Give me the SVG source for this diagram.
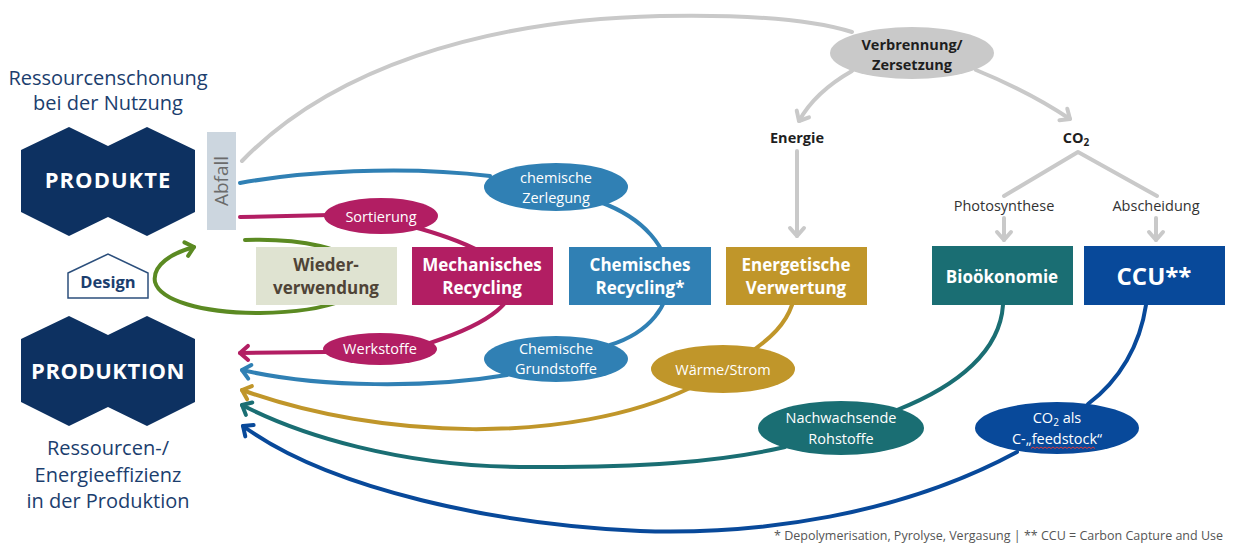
<svg xmlns="http://www.w3.org/2000/svg" width="1233" height="544" viewBox="0 0 1233 544">
<style>
text{font-family:"Open Sans","Noto Sans",sans-serif}
.ln{fill:none;stroke-width:4;stroke-linecap:round}
.gray{stroke:#c9c9c9}
.mag{stroke:#b21e63}
.blu{stroke:#3080b4}
.gld{stroke:#c0962a}
.tea{stroke:#1a6e73}
.dbl{stroke:#08499a}
.grn{stroke:#5b8a22}
.hex{fill:#0d3161}
.nav{fill:#1b3e6e}
.bx{font-weight:700;font-size:17px;fill:#fff;text-anchor:middle}
.el{font-size:14.5px;fill:#fff;text-anchor:middle}
.dk{font-weight:700;font-size:14.5px;fill:#1e1e1e;text-anchor:middle}
.lab{font-size:14.5px;fill:#333;text-anchor:middle}
</style>
<defs>
<marker id="aG" markerUnits="userSpaceOnUse" markerWidth="20" markerHeight="20" refX="0" refY="0" viewBox="-12 -10 16 20" orient="auto"><path d="M-8,-7 L0,0 L-8,7" fill="none" stroke="#c9c9c9" stroke-width="4" stroke-linecap="round" stroke-linejoin="round"/></marker>
<marker id="aM" markerUnits="userSpaceOnUse" markerWidth="20" markerHeight="20" refX="0" refY="0" viewBox="-12 -10 16 20" orient="auto"><path d="M-8,-7 L0,0 L-8,7" fill="none" stroke="#b21e63" stroke-width="4" stroke-linecap="round" stroke-linejoin="round"/></marker>
<marker id="aB" markerUnits="userSpaceOnUse" markerWidth="20" markerHeight="20" refX="0" refY="0" viewBox="-12 -10 16 20" orient="auto"><path d="M-8,-7 L0,0 L-8,7" fill="none" stroke="#3080b4" stroke-width="4" stroke-linecap="round" stroke-linejoin="round"/></marker>
<marker id="aY" markerUnits="userSpaceOnUse" markerWidth="20" markerHeight="20" refX="0" refY="0" viewBox="-12 -10 16 20" orient="auto"><path d="M-8,-7 L0,0 L-8,7" fill="none" stroke="#c0962a" stroke-width="4" stroke-linecap="round" stroke-linejoin="round"/></marker>
<marker id="aT" markerUnits="userSpaceOnUse" markerWidth="20" markerHeight="20" refX="0" refY="0" viewBox="-12 -10 16 20" orient="auto"><path d="M-8,-7 L0,0 L-8,7" fill="none" stroke="#1a6e73" stroke-width="4" stroke-linecap="round" stroke-linejoin="round"/></marker>
<marker id="aD" markerUnits="userSpaceOnUse" markerWidth="20" markerHeight="20" refX="0" refY="0" viewBox="-12 -10 16 20" orient="auto"><path d="M-8,-7 L0,0 L-8,7" fill="none" stroke="#08499a" stroke-width="4" stroke-linecap="round" stroke-linejoin="round"/></marker>
<marker id="aN" markerUnits="userSpaceOnUse" markerWidth="20" markerHeight="20" refX="0" refY="0" viewBox="-12 -10 16 20" orient="auto"><path d="M-8,-7 L0,0 L-8,7" fill="none" stroke="#5b8a22" stroke-width="4" stroke-linecap="round" stroke-linejoin="round"/></marker>
</defs>
<rect width="1233" height="544" fill="#fff"/>

<g id="connectors">
<path class="ln gray" d="M242,161 C330,70 480,20 660,16 C760,14 820,22 852,32"/>
<path class="ln gray" d="M852,71 Q815,92 799,121" marker-end="url(#aG)"/>
<path class="ln gray" d="M976,70 Q1030,92 1070,119" marker-end="url(#aG)"/>
<path class="ln gray" d="M797,151 L797,236" marker-end="url(#aG)"/>
<path class="ln gray" d="M1004,196 L1078,152 L1157,196" stroke-linejoin="round"/>
<path class="ln gray" d="M1004,218 L1004,240" marker-end="url(#aG)"/>
<path class="ln gray" d="M1156,218 L1156,240" marker-end="url(#aG)"/>

<path class="ln blu" d="M240,183 C300,172 400,165 490,176"/>
<path class="ln blu" d="M600,202 C690,235 690,320 610,345"/>
<path class="ln blu" d="M507,375 C430,388 320,388 242,370" marker-end="url(#aB)"/>

<path class="ln mag" d="M240,217 L330,215"/>
<path class="ln mag" d="M410,226 C520,255 560,300 430,343"/>
<path class="ln mag" d="M326,352 L240,353" marker-end="url(#aM)"/>

<path class="ln grn" d="M245,240 C300,238 350,248 365,270 C375,295 330,312 260,313 C200,313 160,300 155,282 C152,265 172,253 194,247" marker-end="url(#aN)"/>

<path class="ln gld" d="M792,305 C785,325 770,338 755,349"/>
<path class="ln gld" d="M690,388 C570,445 380,440 242,390" marker-end="url(#aY)"/>

<path class="ln tea" d="M1003,305 C1000,350 960,385 897,410"/>
<path class="ln tea" d="M785,447 C720,462 640,468 520,467 C400,466 300,435 242,405" marker-end="url(#aT)"/>

<path class="ln dbl" d="M1146,305 C1140,345 1120,380 1088,404"/>
<path class="ln dbl" d="M1017,452 C900,515 760,535 640,531 C500,525 330,490 243,426" marker-end="url(#aD)"/>
</g>

<g id="title-top">
<text x="108" y="85" font-size="20" text-anchor="middle" class="nav">Ressourcenschonung</text>
<text x="108" y="110" font-size="20" text-anchor="middle" class="nav">bei der Nutzung</text>
</g>

<g id="produkte">
<path class="hex" d="M21,150 L69,127 L108,146 L147,127 L195,150 L195,212 L147,236 L108,217 L69,236 L21,212 Z"/>
<text x="108" y="188" font-size="22" font-weight="700" fill="#fff" text-anchor="middle" letter-spacing="1">PRODUKTE</text>
</g>

<g id="abfall">
<rect x="207" y="132" width="29" height="98" fill="#ccd6df"/>
<text transform="translate(228,181) rotate(-90)" font-size="19" fill="#6b6b6b" text-anchor="middle">Abfall</text>
</g>

<g id="design">
<path d="M68,273 L108,254 L148,273 L148,298 L68,298 Z" fill="#fff" stroke="#2c4f7c" stroke-width="1.5"/>
<text x="108" y="288" font-size="16.5" font-weight="700" class="nav" text-anchor="middle">Design</text>
</g>

<g id="produktion">
<path class="hex" d="M21,339 L69,316 L108,335 L147,316 L195,339 L195,402 L147,426 L108,407 L69,426 L21,402 Z"/>
<text x="108" y="379" font-size="22" font-weight="700" fill="#fff" text-anchor="middle" letter-spacing="0.5">PRODUKTION</text>
</g>

<g id="title-bottom">
<text x="108" y="455" font-size="20" text-anchor="middle" class="nav">Ressourcen-/</text>
<text x="108" y="482" font-size="20" text-anchor="middle" class="nav">Energieeffizienz</text>
<text x="108" y="508" font-size="20" text-anchor="middle" class="nav">in der Produktion</text>
</g>

<g id="wiederverwendung">
<rect x="256" y="247" width="141" height="58" fill="#dfe3d1"/>
<text x="326" y="271" class="bx" style="fill:#4f4437">Wieder-</text>
<text x="326" y="294" class="bx" style="fill:#4f4437">verwendung</text>
</g>

<g id="mechanisches-recycling">
<rect x="412" y="247" width="141" height="58" fill="#b21e63"/>
<text x="482" y="271" class="bx">Mechanisches</text>
<text x="482" y="294" class="bx">Recycling</text>
</g>

<g id="chemisches-recycling">
<rect x="569" y="247" width="142" height="58" fill="#3080b4"/>
<text x="640" y="271" class="bx">Chemisches</text>
<text x="640" y="294" class="bx">Recycling*</text>
</g>

<g id="energetische-verwertung">
<rect x="726" y="247" width="141" height="58" fill="#c0962a"/>
<text x="796" y="271" class="bx">Energetische</text>
<text x="796" y="294" class="bx">Verwertung</text>
</g>

<g id="biooekonomie">
<rect x="932" y="246" width="141" height="59" fill="#1a6e73"/>
<text x="1002" y="283" class="bx">Bioökonomie</text>
</g>

<g id="ccu">
<rect x="1084" y="246" width="141" height="59" fill="#08499a"/>
<text x="1154" y="285" class="bx" style="font-size:24px">CCU**</text>
</g>

<g id="sortierung">
<ellipse cx="381" cy="216" rx="57" ry="18" fill="#b21e63"/>
<text x="381" y="222" class="el">Sortierung</text>
</g>

<g id="werkstoffe">
<ellipse cx="380" cy="349" rx="57" ry="16" fill="#b21e63"/>
<text x="380" y="354" class="el">Werkstoffe</text>
</g>

<g id="chemische-zerlegung">
<ellipse cx="556" cy="187" rx="72" ry="24" fill="#3080b4"/>
<text x="556" y="183" class="el">chemische</text>
<text x="556" y="203" class="el">Zerlegung</text>
</g>

<g id="chemische-grundstoffe">
<ellipse cx="556" cy="359" rx="72" ry="23" fill="#3080b4"/>
<text x="556" y="354" class="el">Chemische</text>
<text x="556" y="374" class="el">Grundstoffe</text>
</g>

<g id="waerme-strom">
<ellipse cx="723" cy="369" rx="72" ry="24" fill="#c0962a"/>
<text x="723" y="375" class="el">Wärme/Strom</text>
</g>

<g id="nachwachsende-rohstoffe">
<ellipse cx="841" cy="428" rx="83" ry="27" fill="#1a6e73"/>
<text x="841" y="423" class="el">Nachwachsende</text>
<text x="841" y="444" class="el">Rohstoffe</text>
</g>

<g id="co2-feedstock">
<ellipse cx="1057" cy="428" rx="82" ry="26" fill="#08499a"/>
<text x="1057" y="423" class="el">CO<tspan font-size="10" dy="3">2</tspan><tspan dy="-3"> als</tspan></text>
<text x="1057" y="444" class="el">C-„feedstock“</text>
<path d="M1031,448.5 l2,-1.5 l2,1.5 l2,-1.5 l2,1.5 l2,-1.5 l2,1.5 l2,-1.5 l2,1.5 l2,-1.5 l2,1.5 l2,-1.5 l2,1.5 l2,-1.5 l2,1.5 l2,-1.5 l2,1.5 l2,-1.5 l2,1.5 l2,-1.5 l2,1.5 l2,-1.5 l2,1.5 l2,-1.5 l2,1.5 l2,-1.5 l2,1.5 l2,-1.5 l2,1.5 l2,-1.5 l2,1.5 l2,-1.5 l2,1.5" fill="none" stroke="#e03a3a" stroke-width="1"/>
</g>

<g id="verbrennung">
<ellipse cx="912" cy="53" rx="82" ry="26" fill="#c9c9c9"/>
<text x="912" y="50" class="dk">Verbrennung/</text>
<text x="912" y="70" class="dk">Zersetzung</text>
</g>

<g id="energie">
<text x="797" y="143" class="dk">Energie</text>
</g>

<g id="co2">
<text x="1076" y="143" class="dk">CO<tspan font-size="10" dy="3">2</tspan></text>
</g>

<g id="photosynthese">
<text x="1004" y="211" class="lab">Photosynthese</text>
</g>

<g id="abscheidung">
<text x="1156" y="211" class="lab">Abscheidung</text>
</g>

<g id="footer">
<text x="1223" y="540" font-size="12.5" fill="#555" text-anchor="end">* Depolymerisation, Pyrolyse, Vergasung  |  ** CCU = Carbon Capture and Use</text>
</g>
</svg>
